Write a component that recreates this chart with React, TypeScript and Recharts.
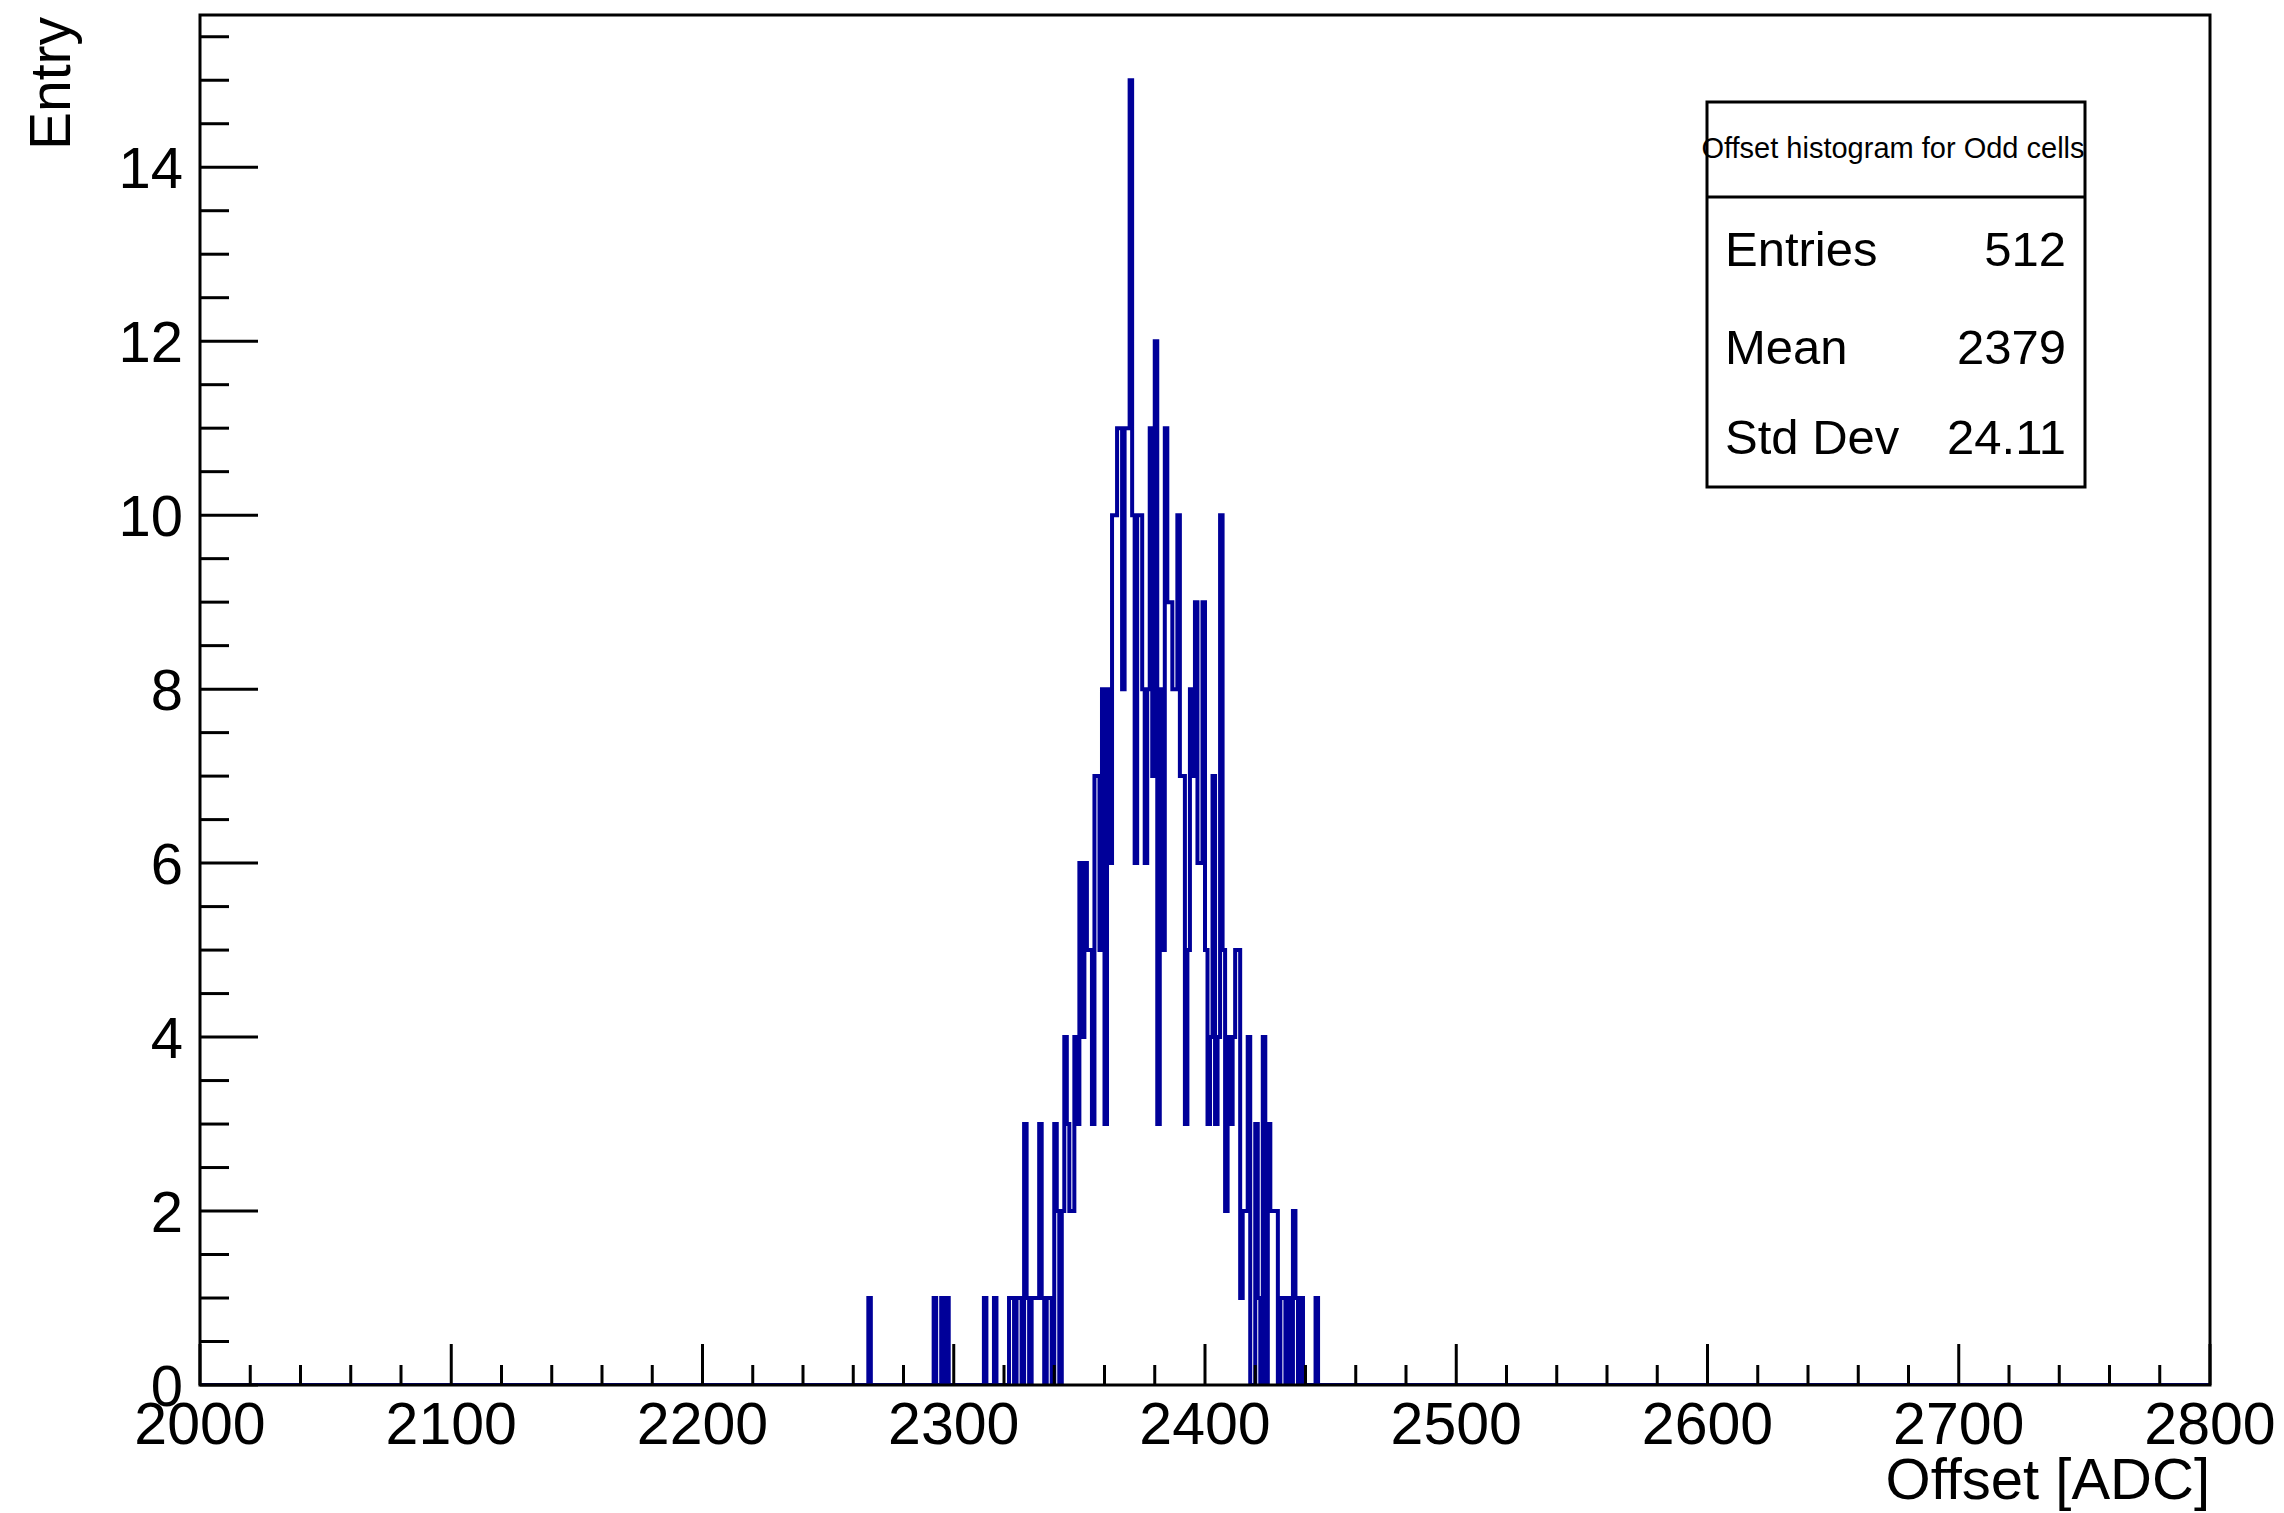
import React from "react";
import { LineChart, Line, XAxis, YAxis } from "recharts";

// histogram bins (1 ADC wide): lower edge and entries; empty bins are omitted
const binAdc = [
  2266, 2292, 2295, 2297, 2312, 2316,
  2322, 2323, 2325, 2326, 2328, 2329, 2331, 2332, 2333, 2334, 2335, 2337, 2338,
  2340, 2341, 2343, 2344, 2345, 2346, 2347, 2348, 2349,
  2350, 2351, 2352, 2353, 2354, 2355, 2356, 2357, 2358, 2359,
  2360, 2361, 2362, 2363, 2364, 2365, 2366, 2367, 2368, 2369,
  2370, 2371, 2372, 2373, 2374, 2375, 2376, 2377, 2378, 2379,
  2380, 2381, 2382, 2383, 2384, 2385, 2386, 2387, 2388, 2389,
  2390, 2391, 2392, 2393, 2394, 2395, 2396, 2397, 2398, 2399,
  2400, 2401, 2402, 2403, 2404, 2405, 2406, 2407, 2408, 2409,
  2410, 2411, 2412, 2413, 2414, 2415, 2416, 2417,
  2420, 2421, 2423, 2425, 2426, 2427, 2428,
  2430, 2431, 2433, 2435, 2436, 2438, 2444,
];
const binCount = [
  1, 1, 1, 1, 1, 1,
  1, 1, 1, 1, 3, 1, 1, 1, 1, 3, 1, 1, 1,
  3, 2, 2, 4, 3, 2, 2, 4, 3,
  6, 4, 6, 5, 5, 3, 7, 7, 5, 8,
  3, 8, 6, 10, 10, 11, 11, 8, 11, 11,
  15, 10, 6, 10, 10, 8, 6, 8, 11, 7,
  12, 3, 8, 5, 11, 9, 9, 8, 8, 10,
  7, 7, 3, 5, 8, 7, 9, 6, 6, 9,
  5, 3, 4, 7, 3, 4, 10, 5, 2, 4,
  3, 4, 5, 5, 1, 2, 2, 4,
  3, 1, 4, 3, 2, 2, 2,
  1, 1, 1, 2, 1, 1, 1,
];

const xMajorTicks = [2000, 2100, 2200, 2300, 2400, 2500, 2600, 2700, 2800];
const xMinorTicks = Array.from({ length: 41 }, (_, i) => 2000 + i * 20);
const yMajorTicks = [0, 2, 4, 6, 8, 10, 12, 14];
const yMinorTicks = Array.from({ length: 32 }, (_, i) => i * 0.5);

const statsTitle = "Offset histogram for Odd cells";
const statsLabels = ["Entries", "Mean", "Std Dev"];
const statsValues = ["512", "2379", "24.11"];

const FONT = "'Liberation Sans', Arial, Helvetica, sans-serif";
const LINE_COLOR = "#000099";

const countByAdc = new Map(binAdc.map((adc, i) => [adc, binCount[i]]));
const data: { adc: number; count: number }[] = [];
for (let adc = 2000; adc <= 2800; adc++) {
  data.push({ adc, count: countByAdc.get(adc) ?? 0 });
}

function XTick(props: any) {
  const { x, y, payload } = props;
  const major = xMajorTicks.includes(payload.value);
  return (
    <g>
      <line x1={x} y1={y} x2={x} y2={y - (major ? 41 : 20)} stroke="#000" strokeWidth={3} />
      {major ? (
        <text x={x} y={y + 59} textAnchor="middle" fontSize={59} fontFamily={FONT} fill="#000">
          {payload.value}
        </text>
      ) : null}
    </g>
  );
}

function YTick(props: any) {
  const { x, y, payload } = props;
  const major = yMajorTicks.includes(payload.value);
  return (
    <g>
      <line x1={x} y1={y} x2={x + (major ? 58 : 29)} y2={y} stroke="#000" strokeWidth={3} />
      {major ? (
        <text x={x - 17} y={y + 21} textAnchor="end" fontSize={58} fontFamily={FONT} fill="#000">
          {payload.value}
        </text>
      ) : null}
    </g>
  );
}

export default function App() {
  return (
    <div style={{ position: "absolute", left: 0, top: 0, width: 2284, height: 1513, background: "#fff" }}>
      <LineChart width={2284} height={1513} data={data} margin={{ top: 15, right: 74, bottom: 0, left: 0 }}>
        <XAxis
          dataKey="adc"
          type="number"
          domain={[2000, 2800]}
          ticks={xMinorTicks}
          interval={0}
          height={128}
          tickSize={0}
          tickMargin={0}
          axisLine={false}
          tickLine={false}
          tick={(p: any) => <XTick {...p} />}
          allowDataOverflow
        />
        <YAxis
          type="number"
          domain={[0, 15.75]}
          ticks={yMinorTicks}
          interval={0}
          width={200}
          tickSize={0}
          tickMargin={0}
          axisLine={false}
          tickLine={false}
          tick={(p: any) => <YTick {...p} />}
          allowDataOverflow
        />
        <Line
          type="stepAfter"
          dataKey="count"
          stroke={LINE_COLOR}
          strokeWidth={4}
          dot={false}
          activeDot={false}
          isAnimationActive={false}
        />
      </LineChart>
      <svg
        width={2284}
        height={1513}
        style={{ position: "absolute", left: 0, top: 0, pointerEvents: "none" }}
        fontFamily={FONT}
      >
        {/* frame around the pad, drawn above the histogram outline */}
        <rect x={200} y={15} width={2010} height={1370} fill="none" stroke="#000" strokeWidth={3} />
        <text x={2210} y={1499} textAnchor="end" fontSize={58} fill="#000">
          Offset [ADC]
        </text>
        <text transform="translate(70,17) rotate(-90)" textAnchor="end" fontSize={57} fill="#000">
          Entry
        </text>
        <rect x={1707} y={102} width={378} height={385} fill="#fff" stroke="#000" strokeWidth={3} />
        <line x1={1707} y1={197} x2={2085} y2={197} stroke="#000" strokeWidth={3} />
        <text x={1893} y={158} textAnchor="middle" fontSize={29} fill="#000">
          {statsTitle}
        </text>
        {statsLabels.map((label, i) => (
          <g key={label}>
            <text x={1725} y={266 + [0, 98, 188][i]} fontSize={49} fill="#000">
              {label}
            </text>
            <text x={2066} y={266 + [0, 98, 188][i]} textAnchor="end" fontSize={49} fill="#000">
              {statsValues[i]}
            </text>
          </g>
        ))}
      </svg>
    </div>
  );
}
